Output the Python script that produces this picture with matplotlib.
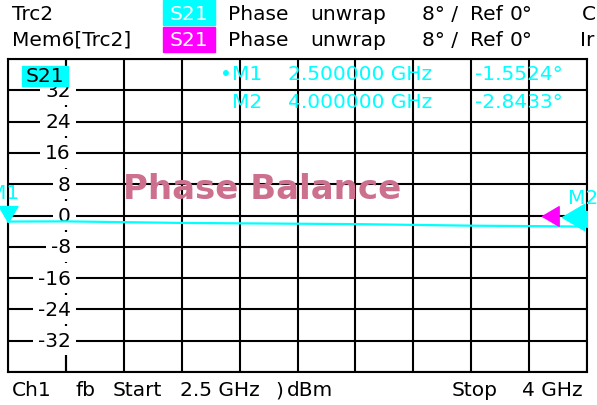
import matplotlib
matplotlib.use('Agg')
import matplotlib.pyplot as plt
import numpy as np
from matplotlib.patches import Rectangle
from matplotlib.transforms import ScaledTranslation, blended_transform_factory

# Sweep / scale settings
start_ghz = 2.5
stop_ghz = 4.0
scale_deg = 8
ref_deg = 0
n_div = 10

# Trc2 phase trace
freq_ghz = [2.5, 2.65, 2.8, 2.95, 3.1, 3.25, 3.4, 3.55, 3.7, 3.85, 4.0]
phase_deg = [-1.55, -1.5, -1.7, -1.9, -2.0, -2.1, -2.2, -2.4, -2.6, -2.7, -2.84]

# Markers
marker_names = ['M1', 'M2']
marker_freq = [2.5, 4.0]
marker_phase = [-1.5524, -2.8433]

W, H = 597, 406
CYAN = '#00ffff'
MAGENTA = '#ff00ff'
FS = 14.5

plt.rcParams['font.family'] = 'DejaVu Sans'
fig = plt.figure(figsize=(W / 100, H / 100), dpi=100)


def px(x, y):
    return x / W, 1 - y / H


def label(x, y, s, **kw):
    kw.setdefault('fontsize', FS)
    kw.setdefault('color', 'black')
    fig.text(*px(x, y), s, va='center', ha=kw.pop('ha', 'left'), **kw)


def box(x0, y0, x1, y1, color):
    fig.patches.append(Rectangle(px(x0, y1), (x1 - x0) / W, (y1 - y0) / H,
                                 transform=fig.transFigure, color=color, zorder=5))


# Grid area
ax = fig.add_axes([8 / W, 1 - 373 / H, 579 / W, 313 / H])
top = ref_deg + scale_deg * n_div / 2
ax.set_xlim(start_ghz, stop_ghz)
ax.set_ylim(-top, top)
xgrid = np.linspace(start_ghz, stop_ghz, n_div + 1)
ygrid = np.arange(-top, top + 1, scale_deg)
ax.set_xticks(xgrid)
ax.set_yticks(ygrid)
ax.grid(color='black', lw=1.5)
ax.tick_params(length=0, labelbottom=False, labelleft=False)
for s in ax.spines.values():
    s.set_linewidth(1.5)

# Scale column on the first vertical division
ax.axvline(xgrid[1], color='black', lw=1.5)
label_tr = ax.transData + ScaledTranslation(5 / 100, 0, fig.dpi_scale_trans)
for v in ygrid[1:-1]:
    ax.text(xgrid[1], v, f'{v:g}', transform=label_tr, ha='right', va='center',
            fontsize=FS, zorder=4,
            bbox=dict(boxstyle='square,pad=0.26', fc='white', ec='none'))

# Trace
ax.plot(freq_ghz, phase_deg, color=CYAN, lw=1.6, zorder=6, clip_on=False)

# Marker triangles (tip on the trace) and labels
tip_down = [(0, 0), (-1, 1.7), (1, 1.7), (0, 0)]
for name, f, p in zip(marker_names, marker_freq, marker_phase):
    ax.plot([f], [p], marker=tip_down, ms=23, color=CYAN, mec=CYAN,
            zorder=7, clip_on=(f == stop_ghz))
    ax.annotate(name, (f, p), xytext=(-19, 29), textcoords='offset pixels',
                ha='left', va='center', color=CYAN, fontsize=FS,
                annotation_clip=False)

# Reference position markers on the right edge
edge_tr = blended_transform_factory(ax.transAxes, ax.transData)
tip_left = [(0, 0), (1.7, 1), (1.7, -1), (0, 0)]
ax.plot([1], [ref_deg], marker=tip_left, ms=24,
        transform=edge_tr + ScaledTranslation(-45 / 100, 0, fig.dpi_scale_trans),
        color=MAGENTA, zorder=7, clip_on=False)
ax.plot([1], [ref_deg], marker=tip_left, ms=32,
        transform=edge_tr + ScaledTranslation(-25 / 100, -1 / 100, fig.dpi_scale_trans),
        color=CYAN, zorder=8, clip_on=False)

# Title
label(262, 190, 'Phase Balance', ha='center', fontsize=24.5,
      fontweight='bold', color='#cc708e', zorder=9)

# Trace label box in grid
box(22, 67, 68, 87, CYAN)
label(45, 77, 'S21', ha='center', zorder=6)

# Header
for row, (name, col) in enumerate([('Trc2', CYAN), ('Mem6[Trc2]', MAGENTA)]):
    y = 15 + 25 * row
    label(12, y, name)
    box(163, 1 + 27 * row, 215, 26 + 27 * row, col)
    label(189, y, 'S21', ha='center', color='white', zorder=6)
    label(228, y, 'Phase')
    label(310, y, 'unwrap')
    label(422, y, f'{scale_deg}\u00b0 /')
    label(470, y, 'Ref')
    label(510, y, f'{ref_deg}\u00b0')
label(582, 15, 'C')
label(580, 40, 'Ir')

# Marker readout
for i, (name, f, p) in enumerate(zip(marker_names, marker_freq, marker_phase)):
    y = 75 + 28 * i
    if i == 0:
        label(220, y, '\u2022', color=CYAN)
    label(232, y, name, color=CYAN)
    label(288, y, f'{f:.6f} GHz', color=CYAN)
    label(475, y, f'{p:.4f}\u00b0', color=CYAN)

# Footer
label(12, 391, 'Ch1')
label(75, 391, 'fb')
label(113, 391, 'Start')
label(180, 391, f'{start_ghz:g} GHz')
label(275, 391, ')')
label(287, 391, 'dBm')
label(452, 391, 'Stop')
label(522, 391, f'{stop_ghz:g} GHz')

fig.savefig('out.png', dpi=100)
